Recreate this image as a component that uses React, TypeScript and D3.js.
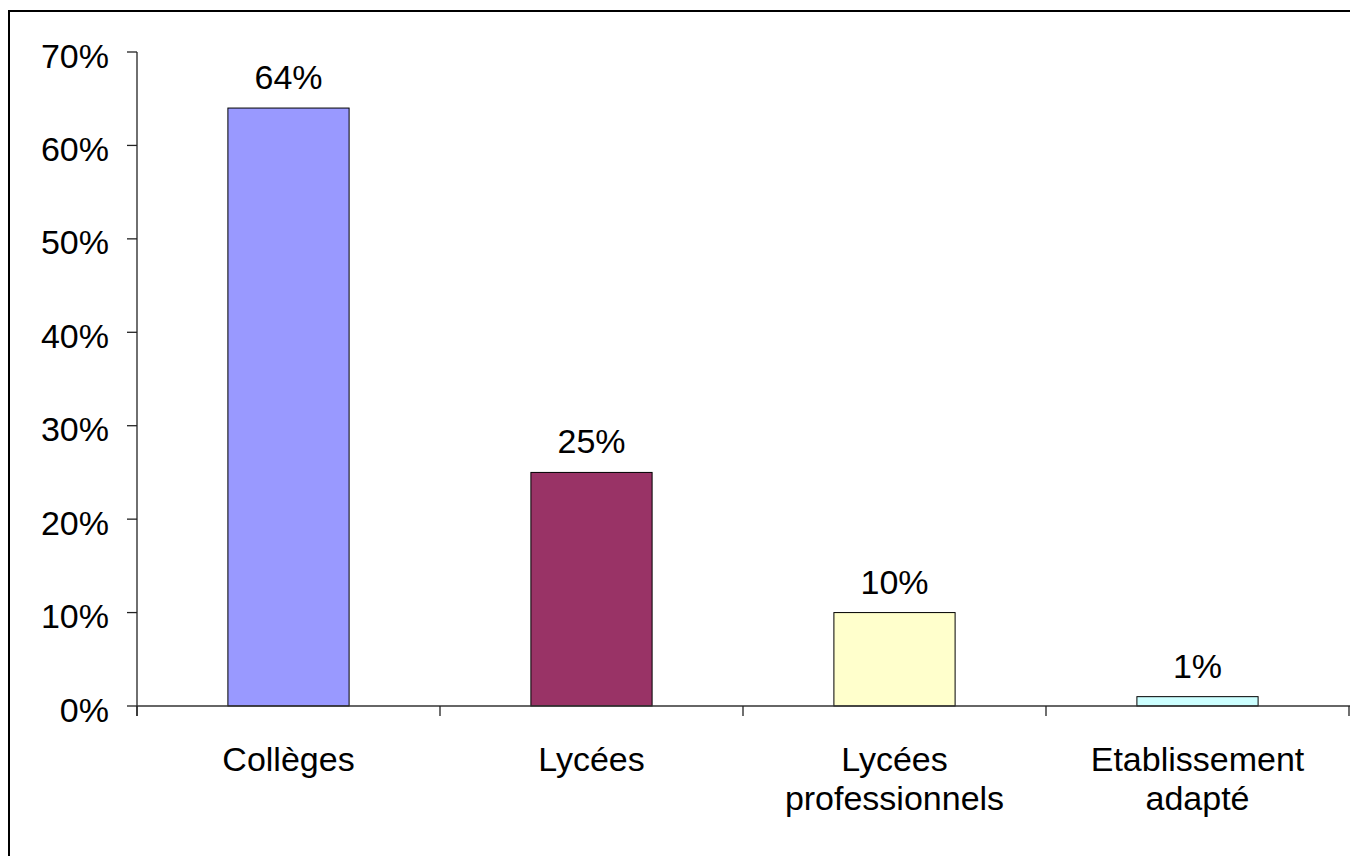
import React from "react";
import * as d3 from "d3";

const categories: string[][] = [
  ["Collèges"],
  ["Lycées"],
  ["Lycées", "professionnels"],
  ["Etablissement", "adapté"],
];
const values: number[] = [64, 25, 10, 1];
const barColors: string[] = ["#9999FF", "#993366", "#FFFFCC", "#CCFFFF"];
const yTicks: number[] = [0, 10, 20, 30, 40, 50, 60, 70];

const W = 1350;
const H = 856;
const FONT = "'Liberation Sans', Arial, sans-serif";

export default function App() {
  const x0 = 137;
  const x1 = 1349;
  const yTop = 52;
  const yBase = 706;

  const x = d3
    .scaleBand<number>()
    .domain(values.map((_, i) => i))
    .range([x0, x1])
    .paddingInner(0.6)
    .paddingOuter(0.3);
  const y = d3.scaleLinear().domain([0, 70]).range([yBase, yTop]);
  const step = x.step();
  const boundaries = d3.range(values.length + 1).map((i) => x0 + i * step);

  return (
    <svg
      width={W}
      height={H}
      style={{ position: "absolute", left: 0, top: 0, background: "#fff" }}
      fontFamily={FONT}
    >
      <rect x={0} y={0} width={W} height={H} fill="#fff" />
      <rect x={9} y={11} width={W + 50} height={H + 50} fill="none" stroke="#000" strokeWidth={2} />

      {values.map((v, i) => (
        <rect
          key={i}
          x={x(i)!}
          y={y(v)}
          width={x.bandwidth()}
          height={yBase - y(v)}
          fill={barColors[i]}
          stroke="#000"
          strokeWidth={1}
        />
      ))}

      {/* y axis */}
      <line x1={x0} x2={x0} y1={y(70)} y2={yBase + 10} stroke="#222" strokeWidth={1.3} />
      {yTicks.map((t) => (
        <g key={t}>
          <line x1={x0 - 10} x2={x0} y1={y(t)} y2={y(t)} stroke="#222" strokeWidth={1.3} />
          <text
            x={109}
            y={y(t) + 15.5}
            textAnchor="end"
            fontSize={34}
            fill="#000"
          >
            {t}%
          </text>
        </g>
      ))}

      {/* x axis */}
      <line x1={x0} x2={W} y1={yBase} y2={yBase} stroke="#333" strokeWidth={1.3} />
      {boundaries.map((b, i) => (
        <line key={i} x1={b} x2={b} y1={yBase} y2={yBase + 10} stroke="#222" strokeWidth={1.3} />
      ))}

      {/* value labels */}
      {values.map((v, i) => (
        <text
          key={i}
          x={x(i)! + x.bandwidth() / 2}
          y={y(v) - 19}
          textAnchor="middle"
          fontSize={34}
          fill="#000"
        >
          {v}%
        </text>
      ))}

      {/* category labels */}
      {categories.map((lines, i) => (
        <text
          key={i}
          x={x(i)! + x.bandwidth() / 2}
          y={771}
          textAnchor="middle"
          fontSize={34}
          fill="#000"
        >
          {lines.map((l, j) => (
            <tspan key={j} x={x(i)! + x.bandwidth() / 2} dy={j === 0 ? 0 : 38.5}>
              {l}
            </tspan>
          ))}
        </text>
      ))}
    </svg>
  );
}
